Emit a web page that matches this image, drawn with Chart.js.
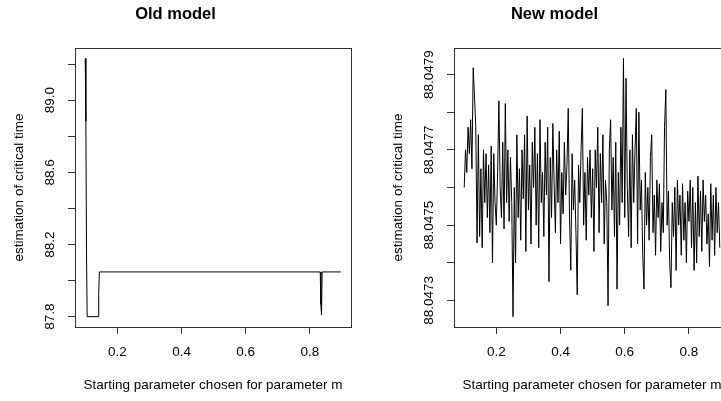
<!DOCTYPE html>
<html>
<head>
<meta charset="utf-8">
<script src="https://cdn.jsdelivr.net/npm/chart.js@4.4.0/dist/chart.umd.min.js"></script>
<style>
  html, body { margin: 0; padding: 0; background: #fff; overflow: hidden; }
  body { width: 721px; height: 401px; position: relative; }
  canvas { position: absolute; top: 0; }
  #oldChart { left: 0; }
  #newChart { left: 379px; }
</style>
</head>
<body>
<canvas id="oldChart" width="380" height="401"></canvas>
<canvas id="newChart" width="380" height="401"></canvas>
<script>
const xTicks = [0.2, 0.4, 0.6, 0.8];

// old model: only the points where the curve changes (flat in between)
const oldX = [0.100, 0.102, 0.104, 0.106, 0.140, 0.142, 0.144, 0.832, 0.834, 0.836, 0.838, 0.896];
const oldY = [89.232, 88.882, 88.161, 87.800, 87.800, 87.923, 88.048, 88.048, 87.868, 87.809, 88.048, 88.048];
const oldYTicks = [87.8, 88.0, 88.2, 88.4, 88.6, 88.8, 89.0, 89.2];
const oldYLabels = [87.8, 88.2, 88.6, 89.0];

// new model: starting m = 0.100, 0.104, ..., 0.896
const newStart = 0.1;
const newStep = 0.004;
const newY = [
  88.047600, 88.047700, 88.047640, 88.047760, 88.047690, 88.047780, 88.047650, 88.047918, 88.047840, 88.047760,
  88.047453, 88.047740, 88.047470, 88.047650, 88.047440, 88.047700, 88.047560, 88.047690, 88.047520, 88.047660,
  88.047480, 88.047710, 88.047400, 88.047690, 88.047560, 88.047500, 88.047640, 88.047830, 88.047600, 88.047520,
  88.047720, 88.047490, 88.047823, 88.047560, 88.047700, 88.047510, 88.047680, 88.047560, 88.047257, 88.047600,
  88.047400, 88.047740, 88.047520, 88.047650, 88.047460, 88.047700, 88.047570, 88.047740, 88.047430, 88.047790,
  88.047540, 88.047660, 88.047450, 88.047720, 88.047600, 88.047760, 88.047500, 88.047690, 88.047440, 88.047780,
  88.047560, 88.047640, 88.047470, 88.047720, 88.047580, 88.047760, 88.047350, 88.047680, 88.047520, 88.047770,
  88.047610, 88.047480, 88.047700, 88.047560, 88.047750, 88.047450, 88.047640, 88.047530, 88.047720, 88.047580,
  88.047660, 88.047810, 88.047520, 88.047380, 88.047690, 88.047540, 88.047620, 88.047480, 88.047315, 88.047660,
  88.047560, 88.047700, 88.047810, 88.047500, 88.047640, 88.047460, 88.047680, 88.047580, 88.047700, 88.047520,
  88.047650, 88.047430, 88.047700, 88.047600, 88.047760, 88.047480, 88.047690, 88.047560, 88.047740, 88.047450,
  88.047620, 88.047560, 88.047286, 88.047700, 88.047780, 88.047540, 88.047680, 88.047470, 88.047720, 88.047330,
  88.047640, 88.047500, 88.047760, 88.047560, 88.047943, 88.047520, 88.047890, 88.047600, 88.047470, 88.047700,
  88.047440, 88.047740, 88.047560, 88.047700, 88.047810, 88.047450, 88.047800, 88.047540, 88.047620, 88.047420,
  88.047330, 88.047640, 88.047500, 88.047600, 88.047460, 88.047680, 88.047740, 88.047480, 88.047580, 88.047420,
  88.047620, 88.047520, 88.047610, 88.047430, 88.047560, 88.047480, 88.047760, 88.047860, 88.047500, 88.047590,
  88.047400, 88.047334, 88.047560, 88.047470, 88.047600, 88.047380, 88.047620, 88.047500, 88.047580, 88.047420,
  88.047610, 88.047460, 88.047560, 88.047400, 88.047590, 88.047510, 88.047620, 88.047440, 88.047600, 88.047380,
  88.047560, 88.047400, 88.047630, 88.047470, 88.047590, 88.047430, 88.047620, 88.047510, 88.047580, 88.047450,
  88.047530, 88.047390, 88.047610, 88.047460, 88.047580, 88.047420, 88.047600, 88.047480, 88.047560, 88.047440
];
const newYTicks = [88.0473, 88.0474, 88.0475, 88.0476, 88.0477, 88.0478, 88.0479];
const newYLabels = [88.0473, 88.0475, 88.0477, 88.0479];

Chart.defaults.font.family = "'Liberation Sans', Arial, sans-serif";
Chart.defaults.color = '#000';

// R style axis range: data range stretched by 4% on each side
function rRange(vals) {
  const lo = Math.min(...vals), hi = Math.max(...vals);
  const d = (hi - lo) * 0.04;
  return [lo - d, hi + d];
}

const boxPlugin = {
  id: 'box',
  afterDraw(chart) {
    const { ctx, chartArea: a } = chart;
    ctx.save();
    ctx.strokeStyle = '#333';
    ctx.lineWidth = 1;
    ctx.strokeRect(Math.round(a.left) + 0.5, Math.round(a.top) + 0.5,
      Math.round(a.right - a.left), Math.round(a.bottom - a.top));
    ctx.restore();
  }
};

function makeChart(id, title, xs, ys, yTicks, yLabels, digits, yPad) {
  const points = xs.map((x, i) => ({ x: x, y: ys[i] }));
  const xr = rRange(xs);
  const yr = rRange(ys);
  return new Chart(document.getElementById(id), {
    type: 'line',
    data: {
      datasets: [{
        data: points,
        borderColor: '#000',
        borderWidth: 1,
        pointRadius: 0,
        tension: 0,
        fill: false
      }]
    },
    options: {
      responsive: false,
      animation: false,
      layout: { padding: { left: 0, right: 29, top: 0, bottom: 0 } },
      plugins: {
        legend: { display: false },
        tooltip: { enabled: false },
        title: {
          display: true,
          text: title,
          color: '#000',
          font: { size: 16.5, weight: 'bold' },
          padding: { top: 5, bottom: 23.2 }
        }
      },
      scales: {
        x: {
          type: 'linear',
          min: xr[0],
          max: xr[1],
          afterBuildTicks: s => { s.ticks = xTicks.map(v => ({ value: v })); },
          afterFit: s => { s.height = 74; },
          grid: { drawOnChartArea: false, drawTicks: true, tickLength: 7, color: '#333', tickColor: '#333' },
          border: { display: false },
          ticks: {
            autoSkip: false,
            maxRotation: 0,
            padding: 10.6,
            font: { size: 13.5 },
            color: '#000',
            callback: v => v.toFixed(1)
          },
          title: {
            display: true,
            text: 'Starting parameter chosen for parameter m',
            color: '#000',
            font: { size: 13.5 },
            padding: { top: 0, bottom: 8 }
          }
        },
        y: {
          type: 'linear',
          min: yr[0],
          max: yr[1],
          afterBuildTicks: s => { s.ticks = yTicks.map(v => ({ value: v })); },
          afterFit: s => { s.width = 75; },
          grid: { drawOnChartArea: false, drawTicks: true, tickLength: 7, color: '#333', tickColor: '#333' },
          border: { display: false },
          ticks: {
            autoSkip: false,
            minRotation: 90,
            maxRotation: 90,
            crossAlign: 'center',
            padding: yPad,
            font: { size: 13.5 },
            color: '#000',
            callback: v => yLabels.includes(v) ? v.toFixed(digits) : ''
          },
          title: {
            display: true,
            text: 'estimation of critical time',
            color: '#000',
            font: { size: 13.5 },
            padding: { top: 11, bottom: 0 }
          }
        }
      }
    },
    plugins: [boxPlugin]
  });
}

const newX = newY.map((v, i) => +(newStart + i * newStep).toFixed(3));

makeChart('oldChart', 'Old model', oldX, oldY, oldYTicks, oldYLabels, 1, 4.8);
makeChart('newChart', 'New model', newX, newY, newYTicks, newYLabels, 4, -6.4);
</script>
</body>
</html>
